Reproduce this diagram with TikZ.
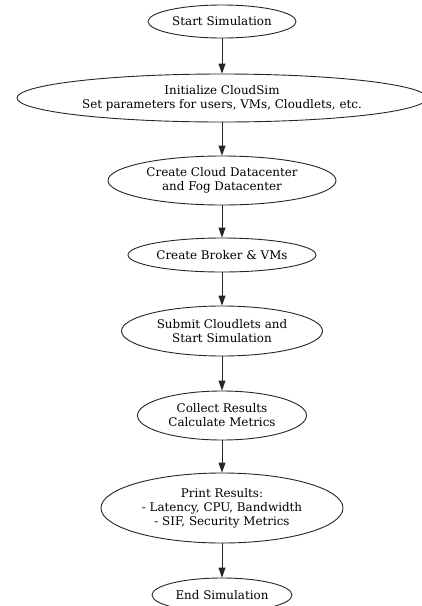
\documentclass[tikz,border=0pt]{standalone}
\usepackage{fontspec}
\setmainfont{DejaVu Serif}
\usetikzlibrary{shapes.geometric,arrows.meta}
\tikzset{
  stepnode/.style={draw=black!85, ellipse, line width=0.9pt, inner sep=0pt, align=center,
    font=\fontsize{11.9}{14}\selectfont},
  flow/.style={draw=black!85, line width=0.9pt, -{Triangle[length=10pt,width=7pt]}}
}
\begin{document}
\begin{tikzpicture}[x=1pt,y=-1pt]
\useasboundingbox (0,0) rectangle (422,606);
\clip (0,0) rectangle (422,606);
\node[stepnode, minimum width=148pt, minimum height=33pt] (start) at (222,21.5) {Start Simulation};
\node[stepnode, minimum width=410pt, minimum height=48pt] (init) at (222,98) {Initialize CloudSim\\Set parameters for users, VMs, Cloudlets, etc.};
\node[stepnode, minimum width=228pt, minimum height=49pt] (dc) at (222,180.5) {Create Cloud Datacenter\\and Fog Datacenter};
\node[stepnode, minimum width=188pt, minimum height=34pt] (broker) at (222,255) {Create Broker \& VMs};
\node[stepnode, minimum width=201pt, minimum height=50pt] (submit) at (222,331) {Submit Cloudlets and\\Start Simulation};
\node[stepnode, minimum width=169pt, minimum height=49pt] (collect) at (222,415.5) {Collect Results\\Calculate Metrics};
\node[stepnode, minimum width=242pt, minimum height=70pt] (print) at (222,508) {Print Results:\\- Latency, CPU, Bandwidth\\- SIF, Security Metrics};
\node[stepnode, minimum width=140pt, minimum height=34pt] (end) at (222,595) {End Simulation};
\draw[flow] (start.south) -- (init.north);
\draw[flow] (init.south) -- (dc.north);
\draw[flow] (dc.south) -- (broker.north);
\draw[flow] (broker.south) -- (submit.north);
\draw[flow] (submit.south) -- (collect.north);
\draw[flow] (collect.south) -- (print.north);
\draw[flow] (print.south) -- (end.north);
\end{tikzpicture}
\end{document}
